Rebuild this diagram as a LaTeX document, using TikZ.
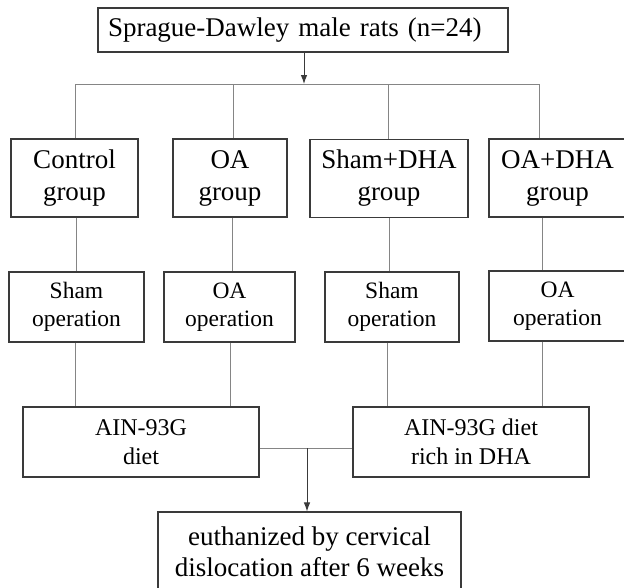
\documentclass[tikz,border=0pt]{standalone}
\usepackage{fontspec}
\setmainfont{Liberation Serif}
\usetikzlibrary{arrows.meta}
\definecolor{boxline}{HTML}{3A3A3A}
\definecolor{conn}{HTML}{858585}
\tikzset{
  box/.style={draw=boxline, line width=1.1pt, fill=white, inner sep=0pt, align=center, text=black},
  bigtxt/.style={font=\fontsize{27}{32}\selectfont},
  smalltxt/.style={font=\fontsize{23.5}{28.5}\selectfont},
  link/.style={draw=conn, line width=0.9pt},
  arr/.style={link, -{Latex[length=9pt,width=6.5pt]}, color=black, draw=boxline}
}
\begin{document}
\begin{tikzpicture}[x=1pt,y=-1pt]
\useasboundingbox (0,0) rectangle (624,587);
% top
\node[box, bigtxt, minimum width=410, minimum height=44, text width=390, align=left] (top) at (303,30) {Sprague-Dawley male rats (n=24)};
% groups
\node[box, bigtxt, minimum width=127, minimum height=78] (c1) at (74.5,178) {Control\\group};
\node[box, bigtxt, minimum width=114, minimum height=78] (c2) at (230,178) {OA\\group};
\node[box, bigtxt, minimum width=158, minimum height=78] (c3) at (389,178.5) {Sham+DHA\\group};
\node[box, bigtxt, minimum width=137, minimum height=78] (c4) at (557.5,178) {OA+DHA\\group};
% operations
\node[box, smalltxt, minimum width=135, minimum height=70] (o1) at (76.5,307) {Sham\\operation};
\node[box, smalltxt, minimum width=131, minimum height=70] (o2) at (229.5,307) {OA\\operation};
\node[box, smalltxt, minimum width=134, minimum height=70] (o3) at (392,307) {Sham\\operation};
\node[box, smalltxt, minimum width=137, minimum height=70] (o4) at (557.5,306) {OA\\operation};
% diets
\node[box, font=\fontsize{24}{29}\selectfont, minimum width=236, minimum height=70] (d1) at (141,442) {AIN-93G\\diet};
\node[box, font=\fontsize{24}{29}\selectfont, minimum width=236, minimum height=70] (d2) at (471,442) {AIN-93G diet\\rich in DHA};
% final
\node[box, font=\fontsize{27}{31}\selectfont, minimum width=303, minimum height=80] (f) at (309.5,552) {euthanized by cervical\\dislocation after 6 weeks};
% bar coordinates
\coordinate (b1) at (75,84);
\coordinate (b2) at (233,84);
\coordinate (b3) at (388,84);
\coordinate (b4) at (539,84);
\coordinate (ta) at (304,84);
\coordinate (j) at (307,448);
% connectors
\draw[arr] (top.south -| ta) -- (ta);
\draw[link] (b1) -- (b4);
\draw[link] (b1) -- (b1 |- c1.north);
\draw[link] (b2) -- (b2 |- c2.north);
\draw[link] (b3) -- (b3 |- c3.north);
\draw[link] (b4) -- (b4 |- c4.north);
\coordinate (g1) at (76,0);
\coordinate (g2) at (232,0);
\coordinate (g3) at (389,0);
\coordinate (g4) at (542,0);
\draw[link] (c1.south -| g1) -- (o1.north -| g1);
\draw[link] (c2.south -| g2) -- (o2.north -| g2);
\draw[link] (c3.south -| g3) -- (o3.north -| g3);
\draw[link] (c4.south -| g4) -- (o4.north -| g4);
\coordinate (h1) at (75,0);
\coordinate (h2) at (230,0);
\coordinate (h3) at (387,0);
\coordinate (h4) at (542,0);
\draw[link] (o1.south -| h1) -- (d1.north -| h1);
\draw[link] (o2.south -| h2) -- (d1.north -| h2);
\draw[link] (o3.south -| h3) -- (d2.north -| h3);
\draw[link] (o4.south -| h4) -- (d2.north -| h4);
\draw[link] (d1.east |- j) -- (d2.west |- j);
\draw[arr] (j) -- (j |- f.north);
\end{tikzpicture}
\end{document}
